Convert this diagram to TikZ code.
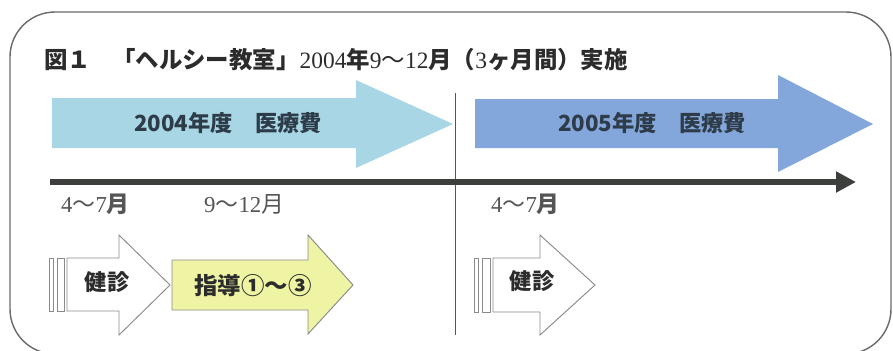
\documentclass[tikz,border=0pt]{standalone}
\usepackage{fontspec}
\setmainfont{Liberation Serif}
\newfontfamily\jp{Noto Sans CJK JP}
\usetikzlibrary{arrows.meta}
\definecolor{frame}{HTML}{6A6A6A}
\definecolor{lightblue}{HTML}{A8D6E5}
\definecolor{midblue}{HTML}{84A7DB}
\definecolor{paleyellow}{HTML}{EEF4A4}
\definecolor{axis}{HTML}{3C3F3C}
\definecolor{txtdark}{HTML}{2C2C2C}
\definecolor{txtnavy}{HTML}{2E3B48}
\definecolor{txtgray}{HTML}{555555}
\definecolor{outline}{HTML}{8A8A8A}
\tikzset{
  titletext/.style={inner sep=0pt, text=txtdark, font=\jp\bfseries\fontsize{20pt}{22pt}\selectfont},
  costtext/.style={inner sep=0pt, text=txtnavy, font=\jp\bfseries\fontsize{19pt}{21pt}\selectfont},
  monthtext/.style={inner sep=0pt, text=txtgray, font=\fontsize{19.5pt}{21pt}\selectfont},
  boxtext/.style={inner sep=0pt, text=txtdark, font=\jp\bfseries\fontsize{19pt}{21pt}\selectfont},
  smallarrow/.style={draw=outline, line width=0.8pt, line join=miter},
}
\begin{document}
\begin{tikzpicture}[x=0.03cm,y=-0.03cm]
\useasboundingbox (0,0) rectangle (893,350);
\begin{scope}
\clip (0,0) rectangle (893,350);
\draw[frame, line width=1.2pt, rounded corners=45*0.03cm] (10,12) rectangle (891,354);
\end{scope}

% title
\node[titletext, anchor=west] (t1) at (44,60) {図１};
\node[titletext, anchor=west] (t2) at (112,60) {「ヘルシー教室」{\rmfamily\mdseries 2004}年{\rmfamily\mdseries 9}{\mdseries ～}{\rmfamily\mdseries 12}月（{\rmfamily\mdseries 3}ヶ月間）実施};

% cost arrows
\fill[lightblue] (52,98) -- (356,98) -- (356,80) -- (453,124) -- (356,168) -- (356,148) -- (52,148) -- cycle;
\fill[midblue] (475,99) -- (778,99) -- (778,75) -- (873,124) -- (778,172) -- (778,148) -- (475,148) -- cycle;
\node[costtext] (c2004) at (228,123) {2004年度　医療費};
\node[costtext] (c2005) at (652,123) {2005年度　医療費};

% divider
\coordinate (d1) at (455,93);
\coordinate (d2) at (455,335);
\draw[txtgray, line width=0.8pt] (d1) -- (d2);

% timeline
\coordinate (ta) at (50,182);
\coordinate (tb) at (856,182);
\draw[axis, line width=5pt, -{Triangle[length=17pt,width=17pt]}] (ta) -- (tb);

% month labels
\node[monthtext, anchor=west] (m1) at (61,204) {4{\jp ～}7{\jp\bfseries 月}};
\node[monthtext, anchor=west] (m2) at (204,204) {9{\jp ～}12{\jp 月}};
\node[monthtext, anchor=west] (m3) at (491,204) {4{\jp ～}7{\jp\bfseries 月}};

% left check-up arrow
\draw[smallarrow, fill=white] (49,258) rectangle (53,311);
\draw[smallarrow, fill=white] (57,258) rectangle (64,311);
\draw[smallarrow, fill=white] (67,258) -- (119,258) -- (119,235) -- (170,285) -- (119,335) -- (119,311) -- (67,311) -- cycle;
\node[boxtext] (k1) at (107,282) {健診};

% guidance arrow
\draw[smallarrow, fill=paleyellow] (172,260) -- (308,260) -- (308,235) -- (353,285) -- (308,334) -- (308,310) -- (172,310) -- cycle;
\node[boxtext, font=\jp\bfseries\fontsize{20pt}{22pt}\selectfont] (g1) at (253,286) {指導①～③};

% right check-up arrow
\draw[smallarrow, fill=white] (474,258) rectangle (478,312);
\draw[smallarrow, fill=white] (482,258) rectangle (490,312);
\draw[smallarrow, fill=white] (493,258) -- (540,258) -- (540,235) -- (595,285) -- (540,335) -- (540,312) -- (493,312) -- cycle;
\node[boxtext] (k2) at (532,281) {健診};
\end{tikzpicture}
\end{document}
